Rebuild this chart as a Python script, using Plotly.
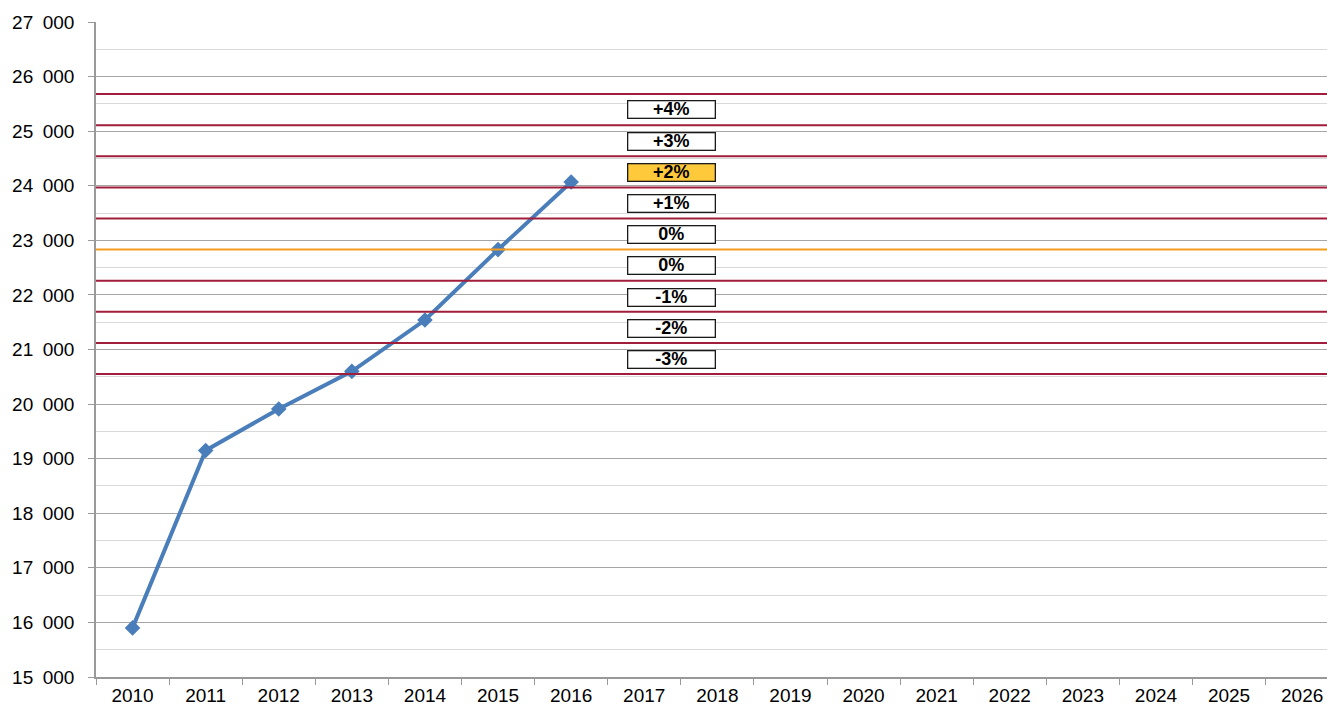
import plotly.graph_objects as go

years = [str(y) for y in range(2010, 2027)]
series_years = ["2010", "2011", "2012", "2013", "2014", "2015", "2016"]
series_values = [15900, 19150, 19910, 20600, 21540, 22830, 24070]

red_levels = [25680, 25110, 24540, 23970, 23400, 22260, 21690, 21120, 20550]
orange_level = 22830

label_texts = ["+4%", "+3%", "+2%", "+1%", "0%", "0%", "-1%", "-2%", "-3%"]
label_values = [25390, 24810, 24250, 23670, 23100, 22530, 21960, 21390, 20810]
highlight_label = "+2%"

fig = go.Figure()

for lv in red_levels:
    fig.add_hline(y=lv, line=dict(color="#a01d3c", width=2), layer="above")
fig.add_hline(y=orange_level, line=dict(color="#f39c1e", width=2), layer="above")

fig.add_trace(go.Scatter(x=series_years, y=series_values, mode="lines+markers",
                         line=dict(color="#4a7ebb", width=4),
                         marker=dict(symbol="diamond", size=12, color="#4a7ebb"),
                         showlegend=False))

for t, v in zip(label_texts, label_values):
    fig.add_annotation(x=7.37, y=v, xref="x", yref="y", text="<b>%s</b>" % t,
                       showarrow=False, width=86, height=16,
                       bgcolor="#ffc93c" if t == highlight_label else "white",
                       bordercolor="#1a1a1a", borderwidth=1.3, borderpad=0,
                       font=dict(family="Liberation Sans, Arial", size=18, color="black"))

fig.update_layout(
    width=1327, height=712,
    margin=dict(l=96, r=0, t=22, b=35),
    plot_bgcolor="white", paper_bgcolor="white",
    separators=".\u2002",
    font=dict(family="Liberation Sans, Arial", size=19, color="black"),
    xaxis=dict(type="category", categoryorder="array", categoryarray=years,
               range=[-0.5, 16.34], tickson="boundaries", ticks="outside", ticklen=6,
               tickcolor="#999999", showline=True, linecolor="#999999", linewidth=1.5,
               showgrid=False, zeroline=False, tickfont=dict(size=19), automargin=False),
    yaxis=dict(range=[15000, 27000], dtick=1000, tickformat=",d", ticks="outside",
               ticklen=6, tickcolor="#999999", showline=True, linecolor="#999999",
               linewidth=1.5, showgrid=True, gridcolor="#a6a6a6", gridwidth=1.3,
               zeroline=False, tickfont=dict(size=19), automargin=False,
               ticklabelstandoff=10,
               minor=dict(dtick=500, showgrid=True, gridcolor="#d9d9d9", gridwidth=1.3, ticks="")),
)

fig.write_html("out.html", config={"displayModeBar": False},
               post_script="document.body.style.margin='0px';document.body.style.overflow='hidden';")
